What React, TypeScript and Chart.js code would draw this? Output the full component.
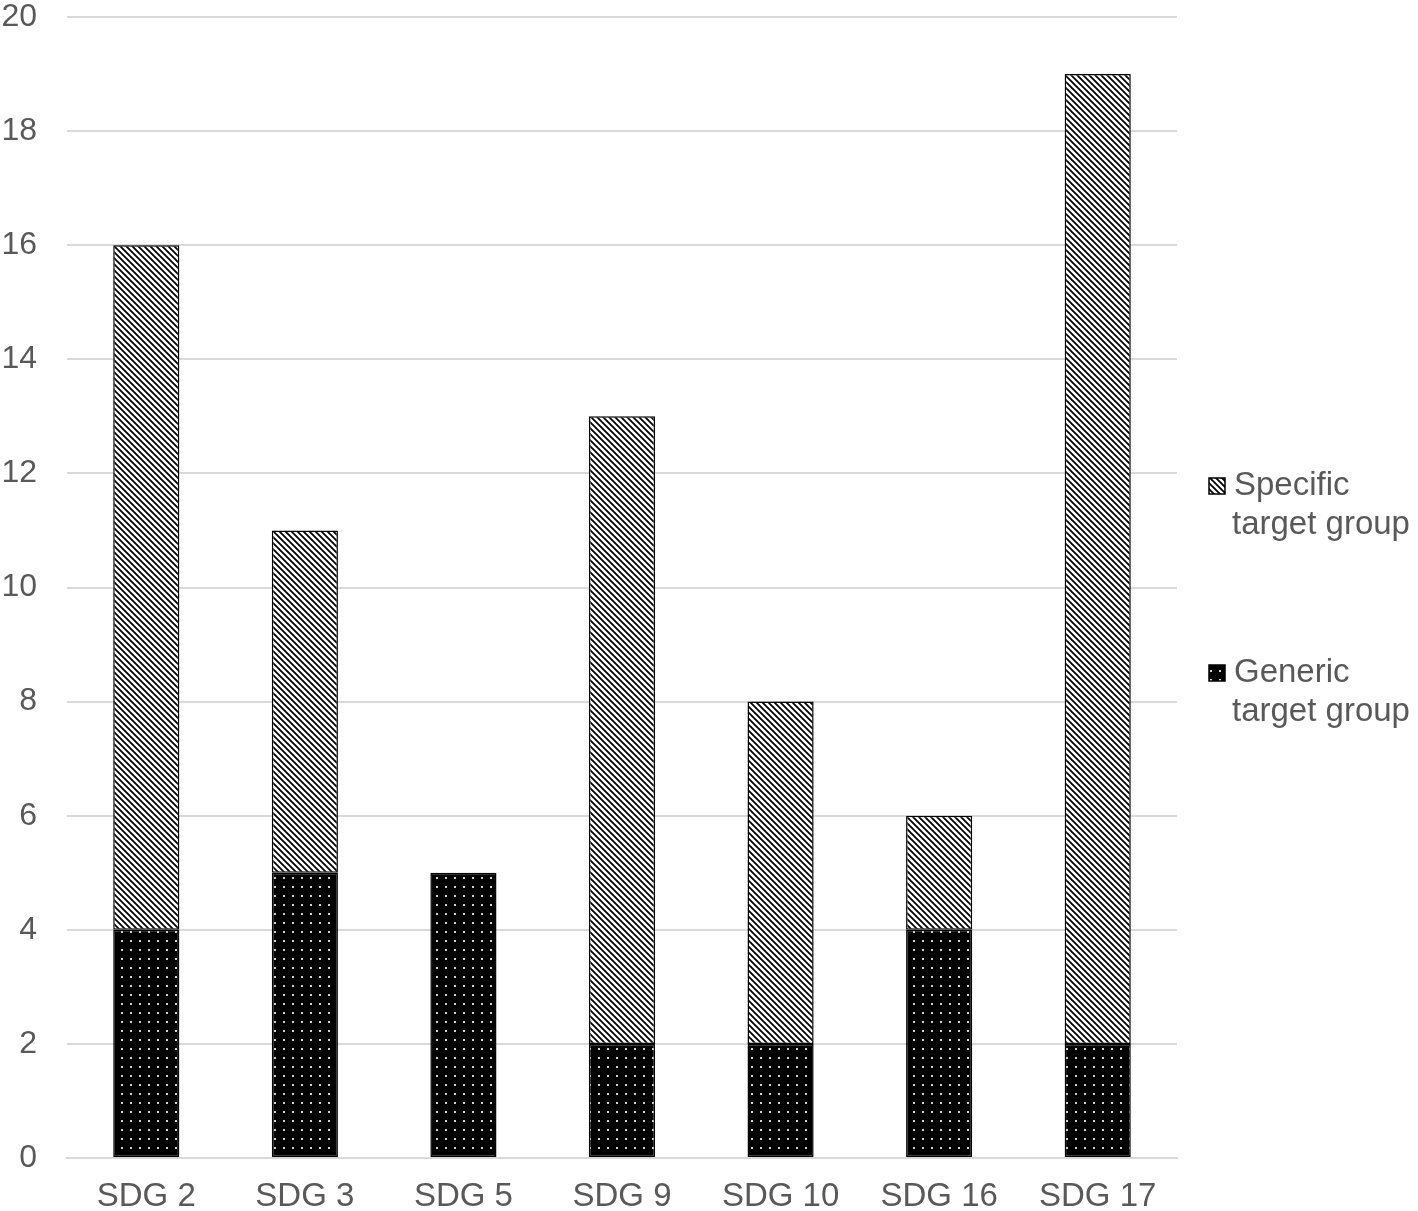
import React, { useEffect, useRef } from "react";
import { Chart, registerables } from "chart.js";

Chart.register(...registerables);

const categories = ["SDG 2", "SDG 3", "SDG 5", "SDG 9", "SDG 10", "SDG 16", "SDG 17"];
const genericValues = [4, 5, 5, 2, 2, 4, 2];
const specificValues = [12, 6, 0, 11, 6, 2, 17];
const seriesNames = ["Generic target group", "Specific target group"];
const legendLines: Record<string, string[]> = {
  "Specific target group": ["Specific", "target group"],
  "Generic target group": ["Generic", "target group"],
};

const FONT = "Liberation Sans, Arial, sans-serif";
const TEXT = "#595959";

function stripePattern(): CanvasPattern {
  const c = document.createElement("canvas");
  const s = 6;
  c.width = s;
  c.height = s;
  const ctx = c.getContext("2d")!;
  ctx.fillStyle = "#ffffff";
  ctx.fillRect(0, 0, s, s);
  ctx.strokeStyle = "#000000";
  ctx.lineWidth = 1.8;
  ctx.beginPath();
  for (let k = -1; k <= 1; k++) {
    ctx.moveTo(k * s - 1, -1);
    ctx.lineTo(k * s + s + 1, s + 1);
  }
  ctx.stroke();
  return document.createElement("canvas").getContext("2d")!.createPattern(c, "repeat")!;
}

function dotPattern(): CanvasPattern {
  const c = document.createElement("canvas");
  const s = 9;
  c.width = s;
  c.height = s;
  const ctx = c.getContext("2d")!;
  ctx.fillStyle = "#000000";
  ctx.fillRect(0, 0, s, s);
  ctx.fillStyle = "#d0d0d0";
  ctx.fillRect(4, 4, 2, 2);
  return document.createElement("canvas").getContext("2d")!.createPattern(c, "repeat")!;
}

export default function App() {
  const ref = useRef<HTMLCanvasElement | null>(null);

  useEffect(() => {
    if (!ref.current) return;
    const stripes = stripePattern();
    const dots = dotPattern();

    const legendPlugin = {
      id: "sideLegend",
      afterDraw(chart: any) {
        const ctx = chart.ctx as CanvasRenderingContext2D;
        const items = [
          { name: seriesNames[1], fill: stripes, y: 486 },
          { name: seriesNames[0], fill: dots, y: 673 },
        ];
        ctx.save();
        for (const it of items) {
          ctx.fillStyle = it.fill as any;
          ctx.fillRect(1209, it.y - 8, 16, 16);
          ctx.strokeStyle = "#000";
          ctx.lineWidth = 1.5;
          ctx.strokeRect(1209, it.y - 8, 16, 16);
          ctx.fillStyle = TEXT;
          ctx.font = `33px ${FONT}`;
          ctx.textBaseline = "middle";
          ctx.textAlign = "left";
          const lines = legendLines[it.name];
          lines.forEach((ln, i) => {
            ctx.fillText(ln, i === 0 ? 1234 : 1232, it.y + i * 39);
          });
        }
        ctx.restore();
      },
    };

    const chart = new Chart(ref.current, {
      type: "bar",
      data: {
        labels: categories,
        datasets: [
          {
            label: seriesNames[0],
            data: genericValues,
            backgroundColor: dots,
            borderColor: "#000000",
            borderWidth: 1.5,
            borderSkipped: false,
            categoryPercentage: 1,
            barPercentage: 0.417,
          },
          {
            label: seriesNames[1],
            data: specificValues,
            backgroundColor: stripes,
            borderColor: "#000000",
            borderWidth: 1.5,
            borderSkipped: false,
            categoryPercentage: 1,
            barPercentage: 0.417,
          },
        ],
      },
      options: {
        animation: false,
        responsive: false,
        maintainAspectRatio: false,
        layout: { padding: { top: 17, right: 241, left: 0, bottom: 0 } },
        plugins: {
          legend: { display: false },
          tooltip: { enabled: false },
        },
        scales: {
          x: {
            stacked: true,
            grid: { display: false, drawTicks: false },
            border: { display: true, color: "#d9d9d9", width: 2 },
            ticks: {
              color: TEXT,
              font: { size: 33, family: FONT },
              padding: 19,
              maxRotation: 0,
            },
            afterFit: (s: any) => {
              s.height = 53;
              s.paddingLeft = 0;
              s.paddingRight = 0;
            },
          },
          y: {
            stacked: true,
            min: 0,
            max: 20,
            grid: { color: "#d9d9d9", lineWidth: 2, drawTicks: false },
            border: { display: false },
            ticks: {
              stepSize: 2,
              color: TEXT,
              font: { size: 32, family: FONT },
              padding: 30,
            },
            afterFit: (s: any) => {
              s.width = 67;
              s.paddingTop = 0;
              s.paddingBottom = 0;
            },
          },
        },
      },
      plugins: [legendPlugin],
    });
    return () => chart.destroy();
  }, []);

  return (
    <div style={{ position: "absolute", left: 0, top: 0, width: 1418, height: 1211, background: "#fff" }}>
      <canvas ref={ref} width={1418} height={1211} style={{ width: 1418, height: 1211 }} />
    </div>
  );
}
